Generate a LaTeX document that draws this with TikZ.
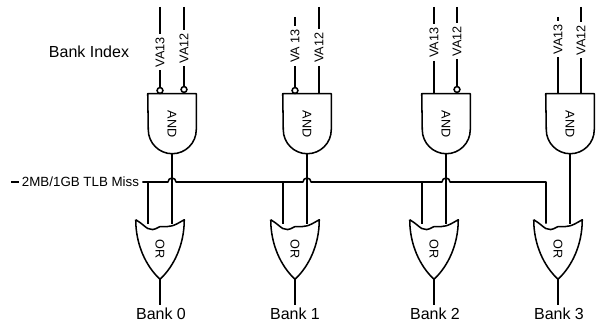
\documentclass[tikz,border=0pt]{standalone}
\usepackage{fontspec}
\setmainfont{Liberation Sans}
\tikzset{
  wire/.style={line width=1.15pt,line join=round},
  bubble/.style={circle,draw,line width=1.15pt,inner sep=0pt,minimum size=4.4pt},
  vlabel/.style={rotate=90,inner sep=2.25pt,font=\fontsize{9.5}{11}\selectfont},
  gatebox/.style={inner sep=0pt,font=\fontsize{9.5}{11}\selectfont},
  banklabel/.style={inner sep=2.25pt,font=\fontsize{12}{14}\selectfont}
}
\newcommand{\andgate}[2]{\node[gatebox,minimum width=36pt,minimum height=45pt] (#1) at (#2) {\rotatebox{-90}{AND}};
  \draw[wire] (#1.north west) -- (#1.north east) -- ++(0,36) arc (0:180:24) -- cycle;}
\newcommand{\orgate}[2]{\node[gatebox,minimum width=36pt,minimum height=44.25pt] (#1) at (#2) {\rotatebox{-90}{OR}};
  \draw[wire] (#1.north west) .. controls ++(12,7) and ++(-12,7) .. ++(24,7) coordinate (#1top)
    .. controls ++(12,0) and ++(-12,7) .. (#1.north east)
    .. controls ++(0,25) and ++(14,-13) .. (#1.south)
    .. controls ++(-14,-13) and ++(0,25) .. (#1.north west);
  \coordinate (#1a) at ([shift={(-12,4)}]#1.north);
  \coordinate (#1b) at ([shift={(12,4)}]#1.north);}

\begin{document}
\begin{tikzpicture}[x=0.75pt,y=-0.75pt]
\useasboundingbox (0,0) rectangle (597,327);
\node[banklabel] (index) at (89,52) {Bank Index};
% gates
\andgate{and0}{172,124} \andgate{and1}{307,124} \andgate{and2}{446,124} \andgate{and3}{570,124}
\orgate{or0}{160,249.5} \orgate{or1}{295,249.5} \orgate{or2}{434,249.5} \orgate{or3}{558,249.5}
% bank 0 inputs
\coordinate (top0a) at (160,7); \coordinate (top0b) at (184,7);
\node[vlabel] (va0a) at (160,52) {VA13}; \node[vlabel] (va0b) at (184,48) {VA12};
\node[bubble] (inv0a) at (160,90.5) {}; \node[bubble] (inv0b) at (184,89.5) {};
\draw[wire] (top0a) -- (va0a); \draw[wire] (va0a) -- (inv0a);
\draw[wire] (top0b) -- (va0b); \draw[wire] (va0b) -- (inv0b);
% bank 1 inputs
\coordinate (top1a) at (295,17); \coordinate (top1b) at (319,7);
\node[vlabel] (va1a) at (295,46) {VA 13}; \node[vlabel] (va1b) at (319,47.5) {VA12};
\node[bubble] (inv1a) at (295,90.5) {};
\draw[wire] (top1a) -- (va1a); \draw[wire] (va1a) -- (inv1a);
\draw[wire] (top1b) -- (va1b); \draw[wire] (va1b) -- (va1b |- and1.north);
% bank 2 inputs
\coordinate (top2a) at (434,7); \coordinate (top2b) at (457,7);
\node[vlabel] (va2a) at (434,42.5) {VA13}; \node[vlabel] (va2b) at (457,41) {VA12};
\node[bubble] (inv2b) at (457,89.5) {};
\draw[wire] (top2a) -- (va2a); \draw[wire] (va2a) -- (va2a |- and2.north);
\draw[wire] (top2b) -- (va2b); \draw[wire] (va2b) -- (inv2b);
% bank 3 inputs
\coordinate (top3a) at (558,17); \coordinate (top3b) at (581,7);
\node[vlabel] (va3a) at (558,39) {VA13}; \node[vlabel] (va3b) at (581,40) {VA12};
\draw[wire] (top3a) -- (va3a); \draw[wire] (va3a) -- (va3a |- and3.north);
\draw[wire] (top3b) -- (va3b); \draw[wire] (va3b) -- (va3b |- and3.north);
% miss line
\coordinate (missin) at (11,182);
\node[inner sep=2.25pt,font=\fontsize{10}{12}\selectfont] (miss) at (80.5,182) {2MB/1GB TLB Miss};
\draw[wire] (missin) -- (miss);
\coordinate (hop0) at (168,182); \coordinate (hop1) at (303,182); \coordinate (hop2) at (442,182);
\coordinate (busend) at (546,182);
\draw[wire] (miss.east) -- (hop0) arc (180:360:4) -- (hop1) arc (180:360:4)
  -- (hop2) arc (180:360:4) -- (busend) -- (or3a);
\draw[wire] (or0a |- miss) -- (or0a);
\draw[wire] (or1a |- miss) -- (or1a);
\draw[wire] (or2a |- miss) -- (or2a);
% and outputs
\draw[wire] (and0.south) -- (or0b); \draw[wire] (and1.south) -- (or1b);
\draw[wire] (and2.south) -- (or2b); \draw[wire] (and3.south) -- (or3b);
% bank outputs
\node[banklabel] (bank0) at (161,314) {Bank 0}; \node[banklabel] (bank1) at (295,314) {Bank 1};
\node[banklabel] (bank2) at (435,314) {Bank 2}; \node[banklabel] (bank3) at (559,314) {Bank 3};
\draw[wire] (or0.south) -- (bank0.north -| or0.south); \draw[wire] (or1.south) -- (bank1.north -| or1.south);
\draw[wire] (or2.south) -- (bank2.north -| or2.south); \draw[wire] (or3.south) -- (bank3.north -| or3.south);
\end{tikzpicture}
\end{document}
